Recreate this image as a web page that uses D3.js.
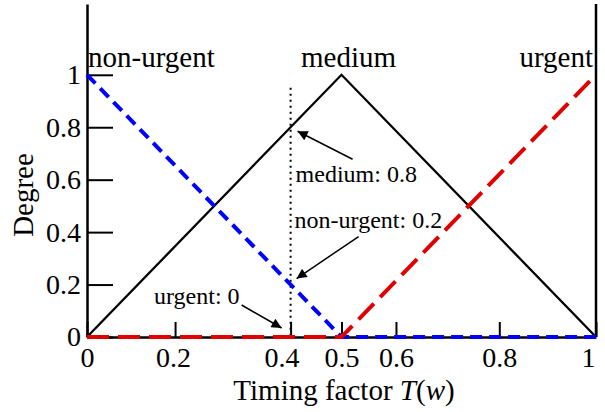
<!DOCTYPE html>
<html>
<head>
<meta charset="utf-8">
<script src="https://cdn.jsdelivr.net/npm/d3@7"></script>
<style>
  html, body { margin: 0; padding: 0; background: #fff; }
  svg { display: block; }
  text { font-family: "Liberation Serif", "Times New Roman", serif; fill: #000; }
</style>
</head>
<body>
<svg id="chart" width="605" height="412"></svg>
<script>
// ---- data ----
const T = [0, 0.5, 1];
const medium = [0, 1, 0];
const nonUrgent = [1, 0, 0];
const urgent = [0, 0, 1];
const xTicks = [0, 0.173, 0.4, 0.5, 0.607, 0.81, 1];
const xTickLabels = ["0", "0.2", "0.4", "0.5", "0.6", "0.8", "1"];
const yTicks = [0, 0.2, 0.4, 0.6, 0.8, 1];
const yTickLabels = ["0", "0.2", "0.4", "0.6", "0.8", "1"];
const setNames = ["non-urgent", "medium", "urgent"];
const cutT = 0.4;
const annotations = [
  { label: "medium: 0.8", v: 0.8 },
  { label: "non-urgent: 0.2", v: 0.2 },
  { label: "urgent: 0", v: 0 }
];

// ---- layout ----
const svg = d3.select("#chart");
const x = d3.scaleLinear().domain([0, 1]).range([87, 596]);
const y = d3.scaleLinear().domain([0, 1.27]).range([337, 4]);
const font = '"Liberation Serif", "Times New Roman", serif';

svg.append("rect").attr("width", 605).attr("height", 412).attr("fill", "#fff");

// arrow marker
svg.append("defs").append("marker")
  .attr("id", "ah").attr("viewBox", "0 0 10 10").attr("refX", 10).attr("refY", 5)
  .attr("markerWidth", 12).attr("markerHeight", 10).attr("markerUnits", "userSpaceOnUse")
  .attr("orient", "auto")
  .append("path").attr("d", "M0,0 L10,5 L0,10 z").attr("fill", "#000");

// axes
const xAxis = d3.axisBottom(x).tickValues(xTicks)
  .tickFormat((d, i) => xTickLabels[i]).tickSize(-15).tickSizeOuter(0).tickPadding(10);
const gx = svg.append("g").attr("transform", `translate(0,${y(0)})`).call(xAxis);
const yAxis = d3.axisLeft(y).tickValues(yTicks)
  .tickFormat((d, i) => yTickLabels[i]).tickSize(-26).tickSizeOuter(0).tickPadding(6);
const gy = svg.append("g").attr("transform", `translate(${x(0)},0)`).call(yAxis);

[gx, gy].forEach(g => {
  g.selectAll("path.domain").attr("stroke", "#000").attr("stroke-width", 2.5);
  g.selectAll(".tick line").attr("stroke", "#000").attr("stroke-width", 2);
  g.selectAll(".tick text").attr("font-family", font).attr("font-size", 28).attr("fill", "#000");
});
gx.selectAll(".tick text").attr("dx", (d, i) => i === 2 ? -9 : (i === 6 ? -8 : (i === 1 ? -2 : 0)));

// right border
svg.append("line")
  .attr("x1", x(1)).attr("x2", x(1)).attr("y1", y(0)).attr("y2", y.range()[1])
  .attr("stroke", "#000").attr("stroke-width", 2.5);

// vertical dotted line at cutT
svg.append("line")
  .attr("x1", x(cutT)).attr("x2", x(cutT)).attr("y1", y(1) + 13).attr("y2", y(0))
  .attr("stroke", "#000").attr("stroke-width", 2).attr("stroke-dasharray", "2,4");

// curves
const line = d3.line().x(d => x(d[0])).y(d => y(d[1]));
svg.append("path").datum(T.map((t, i) => [t, medium[i]])).attr("d", line)
  .attr("fill", "none").attr("stroke", "#000").attr("stroke-width", 2.3);
svg.append("path").datum(T.map((t, i) => [t, nonUrgent[i]])).attr("d", line)
  .attr("fill", "none").attr("stroke", "#0000ff").attr("stroke-width", 4)
  .attr("stroke-dasharray", "12,7");
svg.append("path").datum(T.map((t, i) => [t, urgent[i]])).attr("d", line)
  .attr("fill", "none").attr("stroke", "#e00000").attr("stroke-width", 4)
  .attr("stroke-dasharray", "22,9");

// set names at top
const topY = 67;
svg.append("text").attr("x", x(0) + 1).attr("y", topY).attr("font-size", 29).text(setNames[0]);
svg.append("text").attr("x", x(0.5) + 7).attr("y", topY).attr("text-anchor", "middle").attr("font-size", 29).text(setNames[1]);
svg.append("text").attr("x", x(1) - 3).attr("y", topY).attr("text-anchor", "end").attr("font-size", 29).text(setNames[2]);

// annotations
const px = x(cutT);
const annLayout = [
  { head: [7, 4], tail: [62, 32], text: [5, 55], anchor: "start" },
  { head: [6, -6], tail: [68, -48], text: [4, -57], anchor: "start" },
  { head: [-9, -9], tail: [-49, -32], text: [-51, -33], anchor: "end" }
];
annotations.forEach((a, i) => {
  const py = y(a.v), L = annLayout[i];
  svg.append("line")
    .attr("x1", px + L.tail[0]).attr("y1", py + L.tail[1])
    .attr("x2", px + L.head[0]).attr("y2", py + L.head[1])
    .attr("stroke", "#000").attr("stroke-width", 1.5).attr("marker-end", "url(#ah)");
  svg.append("text").attr("x", px + L.text[0]).attr("y", py + L.text[1])
    .attr("text-anchor", L.anchor).attr("font-size", 24).text(a.label);
});

// axis titles
const xt = svg.append("text").attr("x", 344).attr("y", 400).attr("text-anchor", "middle").attr("font-size", 29);
xt.append("tspan").text("Timing factor ");
xt.append("tspan").attr("font-style", "italic").text("T");
xt.append("tspan").text("(");
xt.append("tspan").attr("font-style", "italic").text("w");
xt.append("tspan").text(")");

svg.append("text").attr("transform", "translate(33,195) rotate(-90)")
  .attr("text-anchor", "middle").attr("font-size", 29).text("Degree");
</script>
</body>
</html>
